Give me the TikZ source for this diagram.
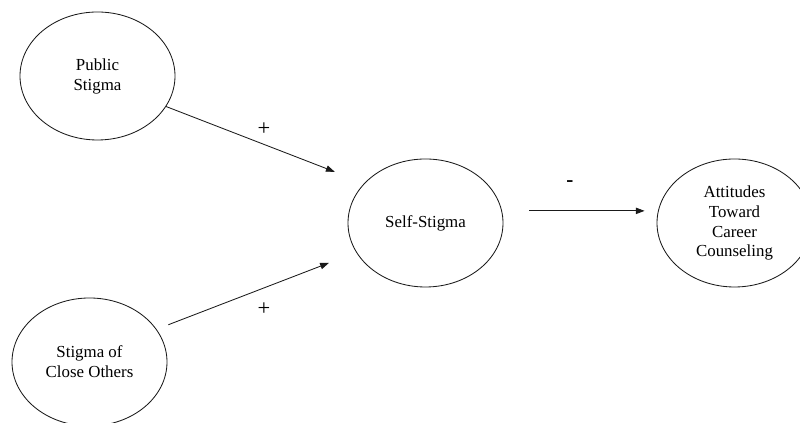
\documentclass[tikz,border=0pt]{standalone}
\usepackage{fontspec}
\setmainfont{Liberation Serif}
\usepackage{tikz}
\usetikzlibrary{arrows.meta,shapes.geometric}
\definecolor{pathink}{HTML}{1A1A1A}

\begin{document}
\begin{tikzpicture}[
  construct/.style={ellipse, draw=pathink, line width=0.6pt, minimum width=3.875cm,
                    minimum height=3.2cm, inner sep=0pt, align=center,
                    font=\fontsize{12}{14.2}\selectfont},
  effect/.style={line width=0.6pt, draw=pathink,
                 -{Triangle[length=2.2mm,width=1.6mm]}},
  sign/.style={font=\fontsize{16}{18}\selectfont, inner sep=0pt}
]
\clip (0,0) rectangle (20,10.575);
% constructs
\node[construct] (pub) at (2.4375,8.675) {Public\\Stigma};
\node[construct] (close) at (2.2375,1.525) {Stigma of\\Close Others};
\node[construct] (self) at (10.6375,5.0) {Self-Stigma};
\node[construct] (att) at (18.3625,5.0) {Attitudes\\Toward\\Career\\Counseling};

% paths
\draw[effect, shorten >=0.79cm] (pub.-24) -- (self.147);
\draw[effect, shorten <=0.315cm, shorten >=0.73cm] (close.26) -- (self.203.5);
\draw[effect, shorten <=0.685cm, shorten >=0.335cm] (self.9) -- (att.171);

\node[sign] (plusup) at (6.6,7.35) {+};
\node[sign] (pluslow) at (6.6,2.85) {+};
\node[sign, font=\fontsize{15}{18}\bfseries] (minus) at (14.25,5.975) {-};
\end{tikzpicture}
\end{document}
